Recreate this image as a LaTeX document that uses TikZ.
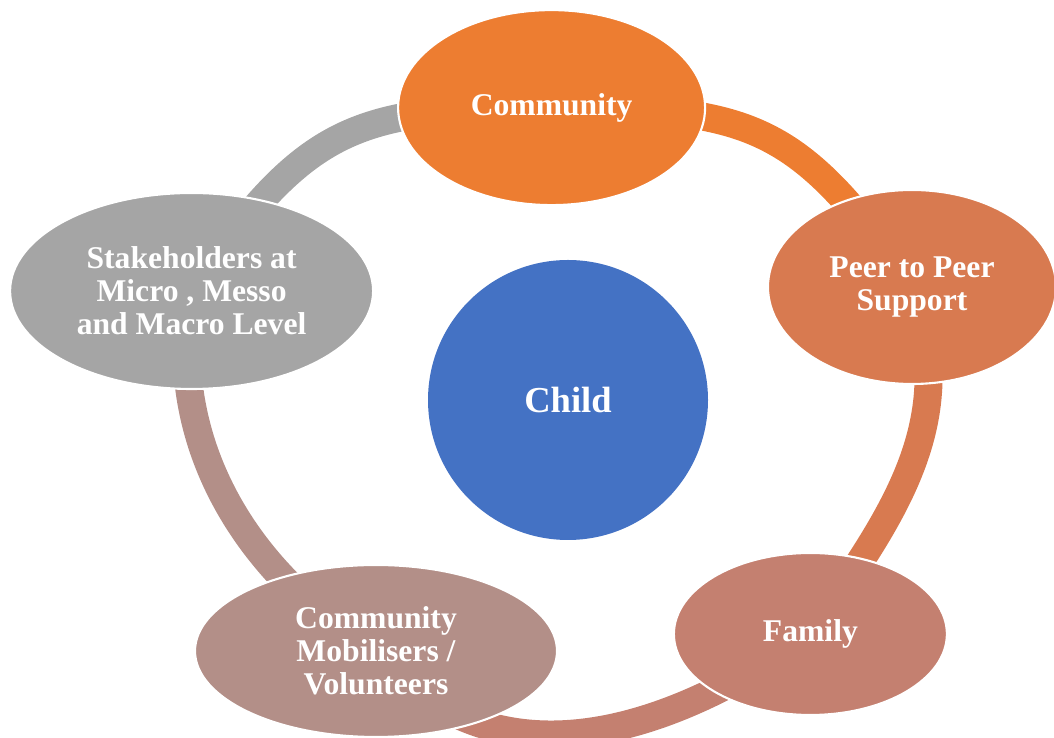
\documentclass[tikz,border=0pt]{standalone}
\usepackage{fontspec}
\setmainfont{Liberation Serif}
\usetikzlibrary{shapes.geometric, backgrounds}

\definecolor{commorange}{HTML}{ED7D31}
\definecolor{peercol}{RGB}{216,122,80}
\definecolor{familycol}{RGB}{196,128,112}
\definecolor{mobilcol}{RGB}{179,143,136}
\definecolor{stakegray}{HTML}{A5A5A5}
\definecolor{childblue}{HTML}{4472C4}

\begin{document}
\begin{tikzpicture}[
    stage/.style={ellipse, draw=white, line width=1.5pt, text=white, align=center,
      inner sep=0pt, font=\bfseries\fontsize{22.5}{23.5}\selectfont},
    ring/.style={line width=0.7cm}
  ]
  \useasboundingbox (0,0) rectangle (26.35,18.45);

  % Child in the middle
  \node[circle, fill=childblue, minimum size=7cm, text=white,
    font=\bfseries\fontsize{26}{28}\selectfont] (child) at (14.2,8.45) {Child};

  % Ellipses on the ring
  \node[stage, fill=commorange, minimum width=7.675cm, minimum height=4.875cm]
    (comm) at (13.79,15.76) {Community};
  \node[stage, fill=peercol, minimum width=7.2cm, minimum height=4.85cm]
    (peer) at (22.8,11.275) {Peer to Peer\\Support};
  \node[stage, fill=familycol, minimum width=6.825cm, minimum height=4.05cm]
    (family) at (20.26,2.6) {Family};
  \node[stage, fill=mobilcol, minimum width=9.05cm, minimum height=4.3cm]
    (mobil) at (9.4,2.175) {Community\\Mobilisers /\\Volunteers};
  \node[stage, fill=stakegray, minimum width=9.075cm, minimum height=4.9cm]
    (stake) at (4.79,11.175) {Stakeholders at\\Micro , Messo\\and Macro Level};

  % Ring segments, hidden under the ellipses at their ends
  \begin{pgfonlayer}{background}
    \draw[ring, commorange] (comm.center) .. controls +(0:5) and +(125:5) .. (peer.center);
    \draw[ring, peercol] (peer.center) .. controls +(-70:3.6) and +(55:3.6) .. (family.center);
    \draw[ring, familycol] (family.center) .. controls +(-145:5.3) and +(-50:4) .. (mobil.center);
    \draw[ring, mobilcol] (mobil.center) .. controls +(150:3.5) and +(-100:4) .. (stake.center);
    \draw[ring, stakegray] (stake.center) .. controls +(55:5) and +(180:5) .. (comm.center);
  \end{pgfonlayer}
\end{tikzpicture}
\end{document}
